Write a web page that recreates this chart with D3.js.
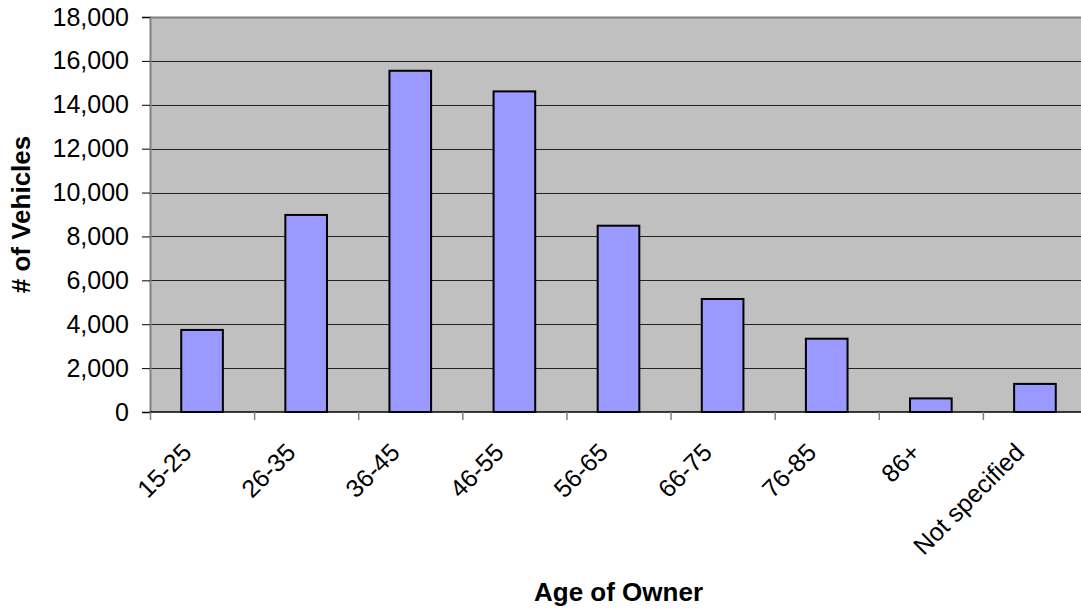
<!DOCTYPE html>
<html>
<head>
<meta charset="utf-8">
<script src="https://cdn.jsdelivr.net/npm/d3@7"></script>
<style>
  html, body { margin: 0; padding: 0; background: #fff; }
  svg { display: block; font-family: Arial, "Liberation Sans", sans-serif; }
</style>
</head>
<body>
<svg id="chart" width="1081" height="611"></svg>
<script>
// Vehicle counts by owner age group
const categories = ["15-25", "26-35", "36-45", "46-55", "56-65", "66-75", "76-85", "86+", "Not specified"];
const vehicles = [3740, 8980, 15550, 14610, 8490, 5150, 3340, 620, 1280];
const yTicks = [0, 2000, 4000, 6000, 8000, 10000, 12000, 14000, 16000, 18000];

const width = 1081, height = 611;
const plot = { left: 150, right: 1087, top: 17, bottom: 412 };

const svg = d3.select("#chart");

const x = d3.scaleBand()
  .domain(categories)
  .range([plot.left, plot.right])
  .paddingInner(0)
  .paddingOuter(0);

const y = d3.scaleLinear()
  .domain([0, 18000])
  .range([plot.bottom, plot.top]);

const fmt = d3.format(",");

// plot area background
svg.append("rect")
  .attr("x", plot.left)
  .attr("y", plot.top)
  .attr("width", plot.right - plot.left)
  .attr("height", plot.bottom - plot.top)
  .attr("fill", "#c0c0c0");

// horizontal gridlines
svg.append("g")
  .selectAll("line")
  .data(yTicks.filter(d => d > 0 && d < 18000))
  .join("line")
  .attr("x1", plot.left)
  .attr("x2", plot.right)
  .attr("y1", d => Math.round(y(d)) + 0.5)
  .attr("y2", d => Math.round(y(d)) + 0.5)
  .attr("stroke", "#222")
  .attr("stroke-width", 1);

// top border of plot area
svg.append("line")
  .attr("x1", plot.left).attr("x2", plot.right)
  .attr("y1", plot.top + 0.5).attr("y2", plot.top + 0.5)
  .attr("stroke", "#808080").attr("stroke-width", 2);

// bars
const barW = x.bandwidth() * 0.4;
svg.append("g")
  .selectAll("rect")
  .data(categories.map((c, i) => ({ c, v: vehicles[i] })))
  .join("rect")
  .attr("x", d => x(d.c) + (x.bandwidth() - barW) / 2)
  .attr("y", d => y(d.v))
  .attr("width", barW)
  .attr("height", d => y(0) - y(d.v))
  .attr("fill", "#9999ff")
  .attr("stroke", "#000")
  .attr("stroke-width", 2);

// y axis
const yAxis = d3.axisLeft(y)
  .tickValues(yTicks)
  .tickFormat(fmt)
  .tickSize(8)
  .tickPadding(13);

const gy = svg.append("g")
  .attr("transform", `translate(${plot.left},0)`)
  .call(yAxis);
gy.select(".domain").attr("stroke", "#808080").attr("stroke-width", 2);
gy.selectAll(".tick line").attr("stroke", "#000");
gy.selectAll(".tick text")
  .attr("font-size", 25)
  .attr("font-family", "Arial, 'Liberation Sans', sans-serif")
  .attr("fill", "#000");

// x axis baseline
svg.append("line")
  .attr("x1", plot.left).attr("x2", plot.right)
  .attr("y1", plot.bottom).attr("y2", plot.bottom)
  .attr("stroke", "#000").attr("stroke-width", 1.5);

// x ticks at band boundaries
svg.append("g")
  .selectAll("line")
  .data(categories)
  .join("line")
  .attr("x1", d => x(d) + 0.5)
  .attr("x2", d => x(d) + 0.5)
  .attr("y1", plot.bottom)
  .attr("y2", plot.bottom + 8)
  .attr("stroke", "#808080")
  .attr("stroke-width", 1.5);

// rotated category labels
svg.append("g")
  .selectAll("text")
  .data(categories)
  .join("text")
  .attr("transform", d => `translate(${x(d) + x.bandwidth() / 2 - 9},${plot.bottom + 42}) rotate(-45)`)
  .attr("text-anchor", "end")
  .attr("font-size", 25)
  .attr("fill", "#000")
  .text(d => d);

// axis titles
svg.append("text")
  .attr("transform", `translate(30,${(plot.top + plot.bottom) / 2}) rotate(-90)`)
  .attr("text-anchor", "middle")
  .attr("font-size", 26)
  .attr("font-weight", "bold")
  .text("# of Vehicles");

svg.append("text")
  .attr("x", (plot.left + plot.right) / 2)
  .attr("y", 601)
  .attr("text-anchor", "middle")
  .attr("font-size", 26)
  .attr("font-weight", "bold")
  .text("Age of Owner");
</script>
</body>
</html>
